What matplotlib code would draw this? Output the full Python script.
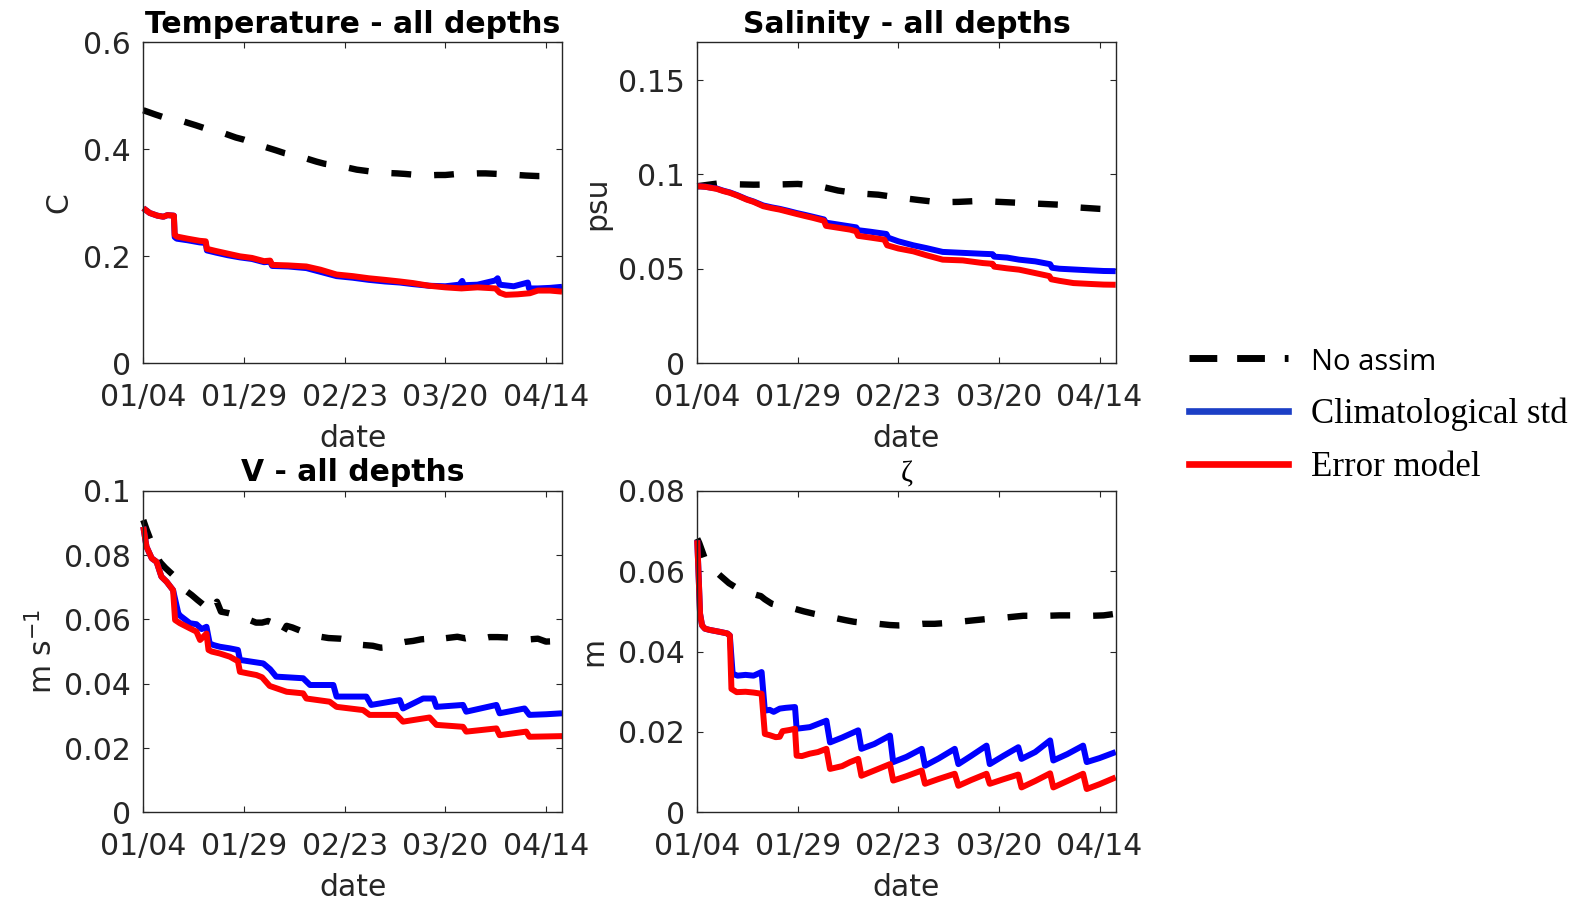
import matplotlib
matplotlib.use('Agg')
import matplotlib.pyplot as plt
import matplotlib.dates as mdates
from matplotlib.lines import Line2D
from matplotlib.ticker import FuncFormatter
import numpy as np

# dates (non-leap year, only month/day shown)
start_date = '2019-01-04'
end_day = 104
tick_dates = ['2019-01-04', '2019-01-29', '2019-02-23', '2019-03-20', '2019-04-14']

# ---------------- Temperature ----------------
temp_noassim_day = [0, 3, 5, 8, 10, 13, 15, 18, 20, 23, 25, 28, 30, 33, 35, 38, 40, 43, 45, 48, 50,
                    53, 55, 58, 60, 63, 65, 68, 70, 73, 75, 78, 80, 83, 85, 88, 90, 93, 95, 98, 100, 104]
temp_noassim = [0.473, 0.465, 0.46, 0.455, 0.452, 0.445, 0.44, 0.433, 0.43, 0.422, 0.418, 0.41, 0.405,
                0.398, 0.393, 0.388, 0.384, 0.377, 0.373, 0.37, 0.367, 0.362, 0.36, 0.357, 0.356, 0.355,
                0.354, 0.352, 0.351, 0.352, 0.352, 0.354, 0.354, 0.355, 0.355, 0.354, 0.354, 0.352,
                0.351, 0.35, 0.35, 0.35]
temp_clim_day = [0, 1.6, 3.5, 5, 6, 7.6, 7.8, 8.3, 11, 14, 15.5, 15.8, 18, 21, 24, 27, 30, 31.5, 32, 36,
                 40.5, 44, 48, 52, 56, 60, 63.7, 67, 71, 75, 78.5, 79.2, 79.6, 83, 87.5, 88, 88.5, 92,
                 95.5, 95.8, 98, 101, 104]
temp_clim = [0.29, 0.281, 0.276, 0.274, 0.277, 0.276, 0.236, 0.233, 0.23, 0.226, 0.225, 0.211, 0.207,
             0.202, 0.198, 0.195, 0.189, 0.19, 0.182, 0.181, 0.178, 0.171, 0.163, 0.16, 0.156, 0.153,
             0.151, 0.148, 0.145, 0.144, 0.147, 0.154, 0.146, 0.147, 0.155, 0.159, 0.147, 0.144, 0.151,
             0.14, 0.14, 0.141, 0.143]
temp_err_day = [0, 1.6, 3.5, 5, 6, 7.6, 7.8, 8.3, 11, 14, 15.5, 15.8, 18, 21, 24, 27, 30, 31.5, 32, 36,
                40.5, 44, 48, 52, 56, 60, 63.7, 67, 71, 75, 79, 83, 87.5, 88.5, 90, 93, 96, 98, 101, 104]
temp_err = [0.29, 0.281, 0.276, 0.274, 0.277, 0.276, 0.24, 0.237, 0.233, 0.229, 0.228, 0.214, 0.21,
            0.205, 0.2, 0.197, 0.191, 0.192, 0.184, 0.183, 0.181, 0.175, 0.166, 0.163, 0.159, 0.156,
            0.153, 0.15, 0.145, 0.142, 0.14, 0.142, 0.14, 0.132, 0.128, 0.129, 0.131, 0.136, 0.136, 0.134]

# ---------------- Salinity ----------------
salt_noassim_day = [0, 5, 10, 14, 20, 25, 30, 35, 40, 45, 50, 55, 60, 65, 70, 75, 80, 85, 90, 95, 100, 104]
salt_noassim = [0.0938, 0.0952, 0.0948, 0.0946, 0.0947, 0.095, 0.094, 0.0915, 0.09, 0.0893, 0.0878,
                0.0865, 0.0853, 0.0855, 0.086, 0.0855, 0.085, 0.0845, 0.084, 0.0825, 0.0818, 0.0814]
salt_clim_day = [0, 2, 4.8, 6.5, 8.1, 10, 12.3, 14, 16.4, 18.5, 20.5, 22.5, 24.7, 26.8, 28.8, 31.5, 32,
                 35, 39.5, 40, 43, 47, 47.5, 50, 53.7, 57, 61, 66, 71, 73.4, 73.8, 77, 80, 84, 87.7,
                 88.2, 90, 93.5, 98, 101, 104]
salt_clim = [0.0938, 0.0935, 0.0926, 0.0914, 0.0905, 0.089, 0.0869, 0.0857, 0.0836, 0.0826, 0.0818,
             0.0808, 0.0796, 0.0786, 0.0776, 0.0762, 0.0745, 0.0735, 0.072, 0.0705, 0.0697, 0.0685,
             0.0665, 0.0646, 0.0625, 0.061, 0.059, 0.0585, 0.058, 0.0578, 0.0565, 0.056, 0.0549,
             0.054, 0.0525, 0.0506, 0.0501, 0.0497, 0.0492, 0.0489, 0.0488]
salt_err_day = [0, 2, 4.8, 6.5, 8.1, 10, 12.3, 14, 16.4, 18.5, 20.5, 22.5, 24.7, 26.8, 28.8, 31.5, 32,
                35, 38, 39.5, 40, 43, 46.5, 47.2, 50, 53.7, 57, 61, 66, 71, 73.4, 73.8, 77, 80, 84,
                87.5, 88, 90, 93.5, 98, 101, 104]
salt_err = [0.0938, 0.0935, 0.0924, 0.0912, 0.0903, 0.0888, 0.0867, 0.0855, 0.0832, 0.0822, 0.0814,
            0.0803, 0.0791, 0.078, 0.077, 0.0755, 0.0728, 0.0718, 0.0708, 0.0699, 0.0675, 0.0666,
            0.0655, 0.0625, 0.0608, 0.0593, 0.0572, 0.0549, 0.0545, 0.0531, 0.0527, 0.0512, 0.0503,
            0.0496, 0.0478, 0.0462, 0.0445, 0.0437, 0.0425, 0.042, 0.0417, 0.0416]

# ---------------- V ----------------
v_noassim_day = [0, 0.8, 1.65, 3, 4.1, 5.5, 7.4, 9, 10.5, 12, 13.5, 14.5, 16.5, 17.3, 18.3, 19.3, 21,
                 24, 26, 28, 29.5, 31, 32.5, 34.3, 35.6, 37, 40, 42, 44, 46, 49, 51, 53, 55, 57, 59,
                 61, 63, 65, 67, 69, 71, 72.5, 74, 76, 78, 80, 82, 84, 86, 88, 90, 92, 94, 96, 98,
                 100, 102, 104]
v_noassim = [0.0909, 0.088, 0.0852, 0.081, 0.0779, 0.076, 0.0738, 0.0715, 0.069, 0.0676, 0.066,
             0.065, 0.0628, 0.0624, 0.0655, 0.0624, 0.062, 0.061, 0.06, 0.059, 0.059, 0.0595, 0.0588,
             0.0551, 0.058, 0.0575, 0.056, 0.0556, 0.0546, 0.0542, 0.054, 0.0536, 0.0522, 0.052,
             0.0518, 0.0512, 0.0514, 0.0525, 0.053, 0.0533, 0.0538, 0.054, 0.0548, 0.054, 0.0543,
             0.0546, 0.0541, 0.0546, 0.054, 0.0545, 0.0545, 0.0544, 0.0542, 0.054, 0.0538, 0.054,
             0.0531, 0.0532, 0.0536]
v_clim_day = [0, 0.8, 2.1, 3.3, 4.5, 5.8, 7.4, 8.7, 9.1, 11.6, 13.2, 14.5, 15.7, 16.5, 17.5, 19,
              21.5, 23.5, 24, 29.8, 31.5, 33, 39.7, 41.4, 47.2, 48, 55.4, 56.6, 63.7, 64.5, 69.5,
              72.1, 72.8, 79.4, 80.2, 87.7, 88.5, 94.7, 95.9, 100, 104]
v_clim = [0.0888, 0.0826, 0.079, 0.0779, 0.0733, 0.0717, 0.0691, 0.0619, 0.0612, 0.0588, 0.0585,
          0.057, 0.0577, 0.0525, 0.052, 0.0515, 0.051, 0.0505, 0.0474, 0.0463, 0.0445, 0.0422,
          0.0417, 0.0396, 0.0396, 0.036, 0.036, 0.0334, 0.0349, 0.0323, 0.0354, 0.0354, 0.0328,
          0.0334, 0.0313, 0.0334, 0.0308, 0.0323, 0.0303, 0.0305, 0.0308]
v_err_day = [0, 0.8, 2.1, 3.3, 4.5, 5.8, 7.4, 7.9, 9.1, 11.6, 13.2, 14.1, 15.7, 16.2, 17, 19, 21.5,
             23.5, 24, 26, 28.1, 29.5, 31.4, 35.6, 39.7, 40.5, 46.3, 48, 54.6, 56.2, 62.9, 64.5,
             71.1, 72.8, 79.4, 80.2, 87.7, 88.5, 95.1, 95.9, 100, 104]
v_err = [0.0888, 0.0826, 0.079, 0.0779, 0.0733, 0.0717, 0.0691, 0.0598, 0.0588, 0.0572, 0.0562,
         0.0536, 0.0556, 0.0505, 0.05, 0.0494, 0.0484, 0.047, 0.0437, 0.0432, 0.0427, 0.042, 0.0393,
         0.0375, 0.037, 0.0354, 0.0344, 0.0328, 0.0318, 0.0303, 0.0303, 0.0282, 0.0295, 0.0272,
         0.0266, 0.0251, 0.0261, 0.024, 0.0251, 0.0235, 0.0236, 0.0237]

# ---------------- zeta ----------------
z_noassim_day = [0, 0.5, 1.9, 3, 4, 5.6, 7.9, 10, 12, 14, 15, 15.8, 16.8, 18.5, 20, 22, 24, 26.5, 29,
                 31, 34, 36.9, 39, 42, 45, 47.9, 50, 53, 56, 59, 62, 65, 68, 70, 73, 76, 79, 81, 84,
                 87, 90, 92, 95, 98, 101, 104]
z_noassim = [0.0681, 0.067, 0.0631, 0.0615, 0.0605, 0.059, 0.057, 0.0557, 0.0548, 0.0543, 0.054,
             0.0538, 0.053, 0.0519, 0.0515, 0.051, 0.0507, 0.05, 0.0494, 0.049, 0.0484, 0.0478,
             0.0474, 0.0471, 0.0469, 0.0466, 0.0465, 0.0466, 0.0469, 0.0469, 0.0471, 0.0474, 0.0477,
             0.0479, 0.0482, 0.0484, 0.0487, 0.0489, 0.0489, 0.0489, 0.049, 0.049, 0.049, 0.0489,
             0.049, 0.0494]
z_clim_day = [0, 0.3, 0.7, 1.2, 1.9, 3, 5.6, 7.5, 8.1, 8.8, 10, 12, 14, 16, 16.8, 18, 19, 20.5, 22,
              24.3, 24.7, 28, 32.1, 33, 36, 40, 40.8, 44, 47.9, 48.7, 52, 55.8, 56.6, 60, 64, 64.9,
              68, 71.9, 72.7, 76, 79.8, 80.6, 84, 87.7, 88.5, 92, 95.9, 96.8, 100, 104]
z_clim = [0.0677, 0.06, 0.0494, 0.0465, 0.0457, 0.0454, 0.0449, 0.0445, 0.044, 0.0345, 0.034,
          0.0342, 0.034, 0.0349, 0.0253, 0.0255, 0.025, 0.0258, 0.026, 0.0262, 0.0208, 0.0212,
          0.0228, 0.0174, 0.0186, 0.0204, 0.0158, 0.017, 0.0191, 0.0125, 0.0138, 0.0158, 0.0116,
          0.0134, 0.0158, 0.012, 0.014, 0.0166, 0.012, 0.014, 0.0162, 0.0133, 0.015, 0.0179,
          0.0129, 0.0145, 0.0166, 0.0125, 0.0135, 0.015]
z_err_day = [0, 0.3, 0.7, 1.2, 1.9, 3, 5.6, 7.5, 8.1, 8.5, 9.8, 12, 14, 16, 16.8, 18, 19.5, 20.5,
             21.2, 23, 24.3, 24.7, 26, 28, 30, 32.1, 33, 36, 38, 40, 40.8, 44, 47.9, 48.7, 52, 55.8,
             56.6, 60, 64, 64.9, 68, 71.9, 72.7, 76, 79.8, 80.6, 84, 87.7, 88.5, 92, 95.9, 96.8,
             100, 104]
z_err = [0.0677, 0.06, 0.0494, 0.0465, 0.0457, 0.0454, 0.0449, 0.0445, 0.044, 0.0307, 0.0299, 0.03,
         0.0298, 0.0295, 0.0195, 0.0192, 0.0187, 0.0188, 0.0202, 0.0205, 0.0208, 0.0141, 0.014,
         0.0146, 0.015, 0.0158, 0.0108, 0.0115, 0.0125, 0.0133, 0.0091, 0.0104, 0.012, 0.0079,
         0.009, 0.0104, 0.0071, 0.0083, 0.0096, 0.0066, 0.008, 0.0096, 0.0071, 0.0082, 0.0094,
         0.0062, 0.0078, 0.0097, 0.0062, 0.0078, 0.0096, 0.0058, 0.007, 0.0087]

panels = [
    dict(title='Temperature - all depths', ylabel='C', ylim=0.6, yticks=[0, 0.2, 0.4, 0.6],
         series=[(temp_noassim_day, temp_noassim), (temp_clim_day, temp_clim), (temp_err_day, temp_err)],
         pos=[0.0904, 0.5963, 0.2642, 0.3567], labx=-0.168),
    dict(title='Salinity - all depths', ylabel='psu', ylim=0.17, yticks=[0, 0.05, 0.1, 0.15],
         series=[(salt_noassim_day, salt_noassim), (salt_clim_day, salt_clim), (salt_err_day, salt_err)],
         pos=[0.4399, 0.5963, 0.2640, 0.3567], labx=-0.206),
    dict(title='V - all depths', ylabel='m s$^{-1}$', ylim=0.1, yticks=[0, 0.02, 0.04, 0.06, 0.08, 0.1],
         series=[(v_noassim_day, v_noassim), (v_clim_day, v_clim), (v_err_day, v_err)],
         pos=[0.0904, 0.0974, 0.2642, 0.3573], labx=-0.203),
    dict(title='ζ', ylabel='m', ylim=0.08, yticks=[0, 0.02, 0.04, 0.06, 0.08],
         series=[(z_noassim_day, z_noassim), (z_clim_day, z_clim), (z_err_day, z_err)],
         pos=[0.4399, 0.0974, 0.2640, 0.3573], labx=-0.213),
]

styles = [dict(color='black', lw=4.6, linestyle=(0, (3.1, 3.6))),
          dict(color='#0000ff', lw=4.3, linestyle='-'),
          dict(color='#ff0000', lw=4.3, linestyle='-')]

gray = '#262626'
plt.rcParams['font.family'] = ['DejaVu Sans']

base = mdates.datestr2num(start_date)
tick_pos = mdates.datestr2num(tick_dates)

fig = plt.figure(figsize=(15.85, 9), dpi=100)
for p in panels:
    ax = fig.add_axes(p['pos'])
    for (d, v), st in zip(p['series'], styles):
        ax.plot(base + np.array(d), v, color=st['color'], lw=st['lw'], linestyle=st['linestyle'],
                solid_capstyle='butt', dash_capstyle='butt', clip_on=False)
    ax.set_xlim(base, base + end_day)
    ax.set_ylim(0, p['ylim'])
    ax.set_xticks(tick_pos)
    ax.xaxis.set_major_formatter(mdates.DateFormatter('%m/%d'))
    ax.set_yticks(p['yticks'])
    ax.yaxis.set_major_formatter(FuncFormatter(lambda v, _: f'{v:g}'))
    ax.tick_params(direction='in', top=True, right=True, length=4, width=0.8, colors=gray,
                   labelsize=21.5, pad=9)
    ax.tick_params(axis='x', pad=14)
    for s in ax.spines.values():
        s.set_color(gray)
        s.set_linewidth(1.0)
    ax.set_xlabel('date', fontsize=21.5, color=gray, labelpad=9)
    ax.set_ylabel(p['ylabel'], fontsize=21.5, color=gray)
    ax.yaxis.set_label_coords(p['labx'], 0.5)
    if p['title'] == 'ζ':
        ax.set_title(p['title'], fontsize=21, family='Liberation Serif', pad=7)
    else:
        ax.set_title(p['title'], fontsize=21.5, fontweight='bold', pad=7)

handles = [Line2D([], [], color='black', lw=5, linestyle=(0, (4.0, 2.86)), dash_capstyle='butt'),
           Line2D([], [], color='#1c3fc6', lw=4.8),
           Line2D([], [], color='#ff0000', lw=4.8)]
labels = ['No assim', 'Climatological std', 'Error model']
leg = fig.legend(handles, labels, loc='center left', bbox_to_anchor=(0.750, 0.539),
                 frameon=False, prop={'family': 'Liberation Serif', 'size': 25},
                 handlelength=2.85, handletextpad=0.68, labelspacing=0.58,
                 borderpad=0, borderaxespad=0)
t0 = leg.get_texts()[0]
t0.set_fontfamily('Open Sans')
t0.set_fontsize(21)

fig.savefig('out.png', dpi=100)
